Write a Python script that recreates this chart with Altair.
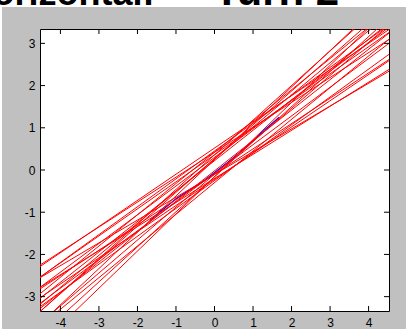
import altair as alt
import pandas as pd

# Red lines: intercept (y at x=0) and slope
red_intercept = [0.246, 0.27, 0.22, 0.26, 0.30, 0.36, 0.42,
                 0.52, 0.42, 0.36, 0.45,
                 -0.106, -0.10, -0.02, -0.08, -0.10, -0.16, -0.16,
                 -0.20, -0.25, -0.30, -0.22]
red_slope = [0.86, 0.80, 0.72, 0.76, 0.68, 0.64, 0.59,
             0.62, 0.74, 0.82, 0.66,
             0.54, 0.60, 0.72, 0.68, 0.78, 0.83, 0.88,
             0.57, 0.66, 0.75, 0.62]
line_x_ends = [-4.6, 4.6]

# Blue curve
blue_x = [-1.68, -1.0, -0.3, 0.34, 0.82, 1.3, 1.68]
blue_y = [-1.2, -0.68, -0.27, 0.18, 0.54, 0.95, 1.25]

x_ticks = [-4, -3, -2, -1, 0, 1, 2, 3, 4]
y_ticks = [-3, -2, -1, 0, 1, 2, 3]
x_domain = [-4.53, 4.53]
y_domain = [-3.34, 3.34]

W, H = 349, 282

rows = []
for i, (b, m) in enumerate(zip(red_intercept, red_slope)):
    for xe in line_x_ends:
        rows.append({"id": i, "x": xe, "y": b + m * xe})
red_df = pd.DataFrame(rows)
blue_df = pd.DataFrame({"x": blue_x, "y": blue_y})
xt_df = pd.DataFrame({"v": x_ticks})
yt_df = pd.DataFrame({"v": y_ticks})
one = pd.DataFrame({"a": [0]})

xs = alt.Scale(domain=x_domain, nice=False, zero=False)
ys = alt.Scale(domain=y_domain, nice=False, zero=False)

minus_fix = "replace(datum.label, '\u2212', '-')"
xaxis = alt.Axis(values=x_ticks, ticks=False, tickSize=0, domain=False, grid=False,
                 labelPadding=6, labelFont="Liberation Sans", labelFontSize=12,
                 labelColor="black", title=None, labelExpr=minus_fix)
yaxis = alt.Axis(values=y_ticks, ticks=False, tickSize=0, domain=False, grid=False,
                 labelPadding=5, labelFont="Liberation Sans", labelFontSize=12,
                 labelColor="black", title=None, labelExpr=minus_fix)

strip = alt.Chart(one).mark_rect(color="white").encode(
    x=alt.value(-40), x2=alt.value(366), y=alt.value(-29), y2=alt.value(-22))
strip_left = alt.Chart(one).mark_rect(color="white").encode(
    x=alt.value(-40), x2=alt.value(-38), y=alt.value(-29), y2=alt.value(300))

title1 = alt.Chart(one).mark_text(
    text="Horizontal:", font="Liberation Sans", fontWeight="bold", fontSize=36,
    align="right", baseline="alphabetic", color="black").encode(
    x=alt.value(114.5), y=alt.value(-24))
title2 = alt.Chart(one).mark_text(
    text="Turn 2", font="Liberation Sans", fontWeight="bold", fontSize=42,
    align="left", baseline="alphabetic", color="black").encode(
    x=alt.value(174), y=alt.value(-24))

blue = alt.Chart(blue_df).mark_line(color="#0000FF", strokeWidth=1.2, clip=True).encode(
    x=alt.X("x:Q", scale=xs, axis=xaxis),
    y=alt.Y("y:Q", scale=ys, axis=yaxis))

red = alt.Chart(red_df).mark_line(color="#FF0000", strokeWidth=1, clip=True).encode(
    x=alt.X("x:Q", scale=xs),
    y=alt.Y("y:Q", scale=ys),
    detail="id:N")

tb = alt.Chart(xt_df).mark_rule(color="black").encode(
    x=alt.X("v:Q", scale=xs), y=alt.value(H), y2=alt.value(H - 5))
tt = alt.Chart(xt_df).mark_rule(color="black").encode(
    x=alt.X("v:Q", scale=xs), y=alt.value(0), y2=alt.value(5))
tl = alt.Chart(yt_df).mark_rule(color="black").encode(
    y=alt.Y("v:Q", scale=ys), x=alt.value(0), x2=alt.value(5))
tr = alt.Chart(yt_df).mark_rule(color="black").encode(
    y=alt.Y("v:Q", scale=ys), x=alt.value(W), x2=alt.value(W - 5))

chart = alt.layer(strip, strip_left, title1, title2, blue, red, tb, tt, tl, tr).properties(
    width=W, height=H,
    background="#C0C0C0",
    autosize=alt.AutoSizeParams(type="none"),
    padding={"left": 40, "top": 29, "right": 17, "bottom": 18},
).configure_view(fill="white", stroke="black", strokeWidth=1)

chart.save("out.html", embed_options={"renderer": "svg", "actions": False})
